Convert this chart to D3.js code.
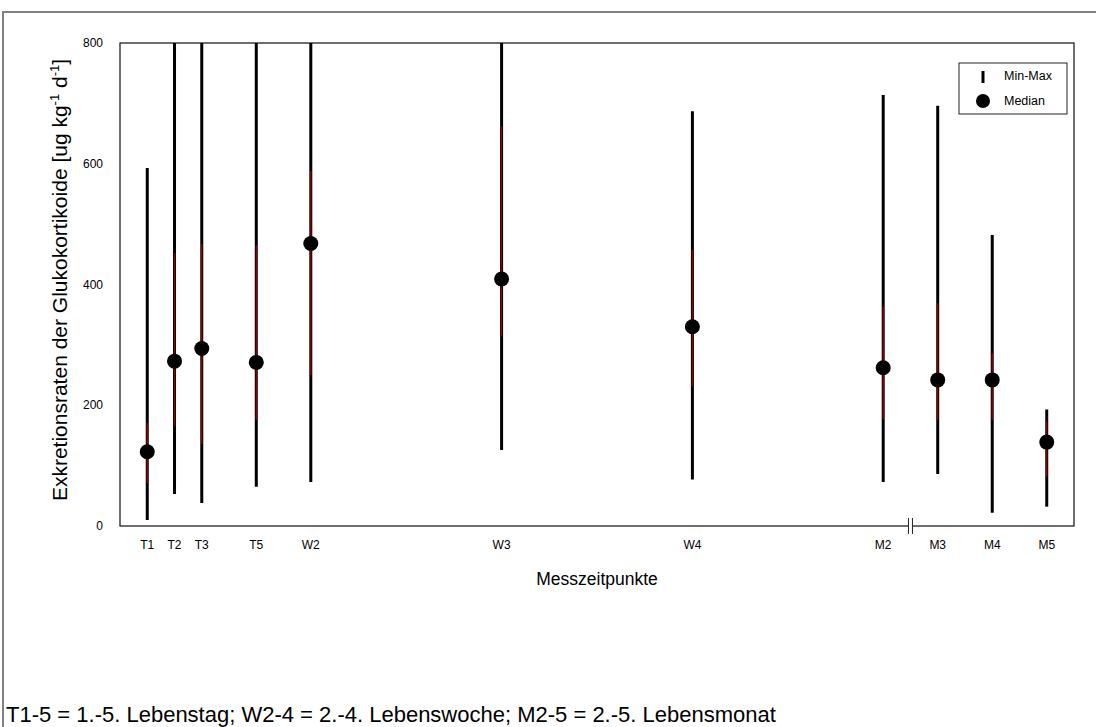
<!DOCTYPE html>
<html>
<head>
<meta charset="utf-8">
<script src="https://cdn.jsdelivr.net/npm/d3@7"></script>
<style>
  body { margin: 0; background: #fff; }
  svg { font-family: "Liberation Sans", Arial, sans-serif; }
</style>
</head>
<body>
<script>
// Messzeitpunkte und ihre Position auf der Zeitachse
const labels = ['T1', 'T2', 'T3', 'T5', 'W2', 'W3', 'W4', 'M2', 'M3', 'M4', 'M5'];
const xPos   = [1, 2, 3, 5, 7, 14, 21, 28, 30, 32, 34];
// Werte [ug kg-1 d-1]
const minVals = [10, 53, 38, 65, 73, 126, 77, 73, 86, 22, 32];
const maxVals = [593, 800, 800, 800, 800, 800, 687, 714, 696, 482, 193];
const q1Vals  = [71, 165, 136, 176, 250, 314, 231, 177, 176, 176, 82];
const q3Vals  = [170, 452, 467, 465, 588, 662, 457, 363, 369, 286, 173];
const medians = [123, 273, 294, 271, 468, 409, 330, 262, 242, 242, 139];
const yTicks  = [0, 200, 400, 600, 800];

const W = 1096, H = 727;
const m = {left: 120, right: 1074, top: 43, bottom: 526};

const svg = d3.select('body').append('svg')
  .attr('width', W).attr('height', H);

// outer frame
svg.append('rect')
  .attr('x', 3).attr('y', 12).attr('width', 1100).attr('height', 800)
  .style('fill', 'none').style('stroke', '#808080').style('stroke-width', 2);

const x = d3.scaleLinear().domain([0, 35]).range([m.left, m.right]);
const y = d3.scaleLinear().domain([0, 800]).range([m.bottom, m.top]);

svg.append('defs').append('clipPath').attr('id', 'plot')
  .append('rect').attr('x', m.left).attr('y', m.top)
  .attr('width', m.right - m.left).attr('height', m.bottom - m.top);

// plot box
svg.append('rect')
  .attr('x', m.left).attr('y', m.top)
  .attr('width', m.right - m.left).attr('height', m.bottom - m.top)
  .style('fill', 'none').style('stroke', '#222').style('stroke-width', 1.3);

// y tick labels
svg.append('g').selectAll('text').data(yTicks).join('text')
  .attr('x', m.left - 17).attr('y', d => y(d) + 4)
  .attr('text-anchor', 'end').style('font-size', '12px')
  .text(d => d);

// x tick labels
svg.append('g').selectAll('text').data(labels).join('text')
  .attr('x', (d, i) => x(xPos[i])).attr('y', 549)
  .attr('text-anchor', 'middle').style('font-size', '12px')
  .text(d => d);

// axis break between M2 and M3
const bx = x(29);
svg.append('rect').attr('x', bx - 2.5).attr('y', m.bottom - 2)
  .attr('width', 5).attr('height', 4).style('fill', '#fff');
[-2, 2].forEach(o => {
  svg.append('line')
    .attr('x1', bx + o).attr('x2', bx + o)
    .attr('y1', m.bottom - 8).attr('y2', m.bottom + 8)
    .style('stroke', '#222').style('stroke-width', 1);
});

const g = svg.append('g').attr('clip-path', 'url(#plot)');
const idx = d3.range(labels.length);

// min-max lines
g.selectAll('line.range').data(idx).join('line').attr('class', 'range')
  .attr('x1', i => x(xPos[i])).attr('x2', i => x(xPos[i]))
  .attr('y1', i => y(minVals[i])).attr('y2', i => y(maxVals[i]))
  .style('stroke', '#000').style('stroke-width', 3);

// quartile part in dark red
g.selectAll('line.iqr').data(idx).join('line').attr('class', 'iqr')
  .attr('x1', i => x(xPos[i])).attr('x2', i => x(xPos[i]))
  .attr('y1', i => y(q1Vals[i])).attr('y2', i => y(q3Vals[i]))
  .style('stroke', '#8b0000').style('stroke-width', 1.4);

// medians
svg.append('g').selectAll('circle').data(idx).join('circle')
  .attr('cx', i => x(xPos[i])).attr('cy', i => y(medians[i])).attr('r', 7.5)
  .style('fill', '#000');

// legend
const lg = svg.append('g');
lg.append('rect').attr('x', 959).attr('y', 63).attr('width', 108).attr('height', 51)
  .style('fill', '#fff').style('stroke', '#222').style('stroke-width', 1);
lg.append('line').attr('x1', 983).attr('x2', 983).attr('y1', 71).attr('y2', 83)
  .style('stroke', '#000').style('stroke-width', 3);
lg.append('circle').attr('cx', 983).attr('cy', 101).attr('r', 7).style('fill', '#000');
lg.append('text').attr('x', 1004).attr('y', 80).style('font-size', '12.5px').text('Min-Max');
lg.append('text').attr('x', 1004).attr('y', 105).style('font-size', '12.5px').text('Median');

// axis titles
svg.append('text').attr('x', (m.left + m.right) / 2).attr('y', 585)
  .attr('text-anchor', 'middle').style('font-size', '17.5px').text('Messzeitpunkte');

const yt = svg.append('text')
  .attr('transform', 'translate(67,' + 280 + ') rotate(-90)')
  .attr('text-anchor', 'middle').style('font-size', '21px');
yt.append('tspan').text('Exkretionsraten der Glukokortikoide [ug kg');
yt.append('tspan').attr('dy', -8).style('font-size', '13px').text('-1');
yt.append('tspan').attr('dy', 8).text(' d');
yt.append('tspan').attr('dy', -8).style('font-size', '13px').text('-1');
yt.append('tspan').attr('dy', 8).text(']');

// footnote
svg.append('text').attr('x', 6).attr('y', 722).style('font-size', '22px')
  .text('T1-5 = 1.-5. Lebenstag; W2-4 = 2.-4. Lebenswoche; M2-5 = 2.-5. Lebensmonat');
</script>
</body>
</html>
